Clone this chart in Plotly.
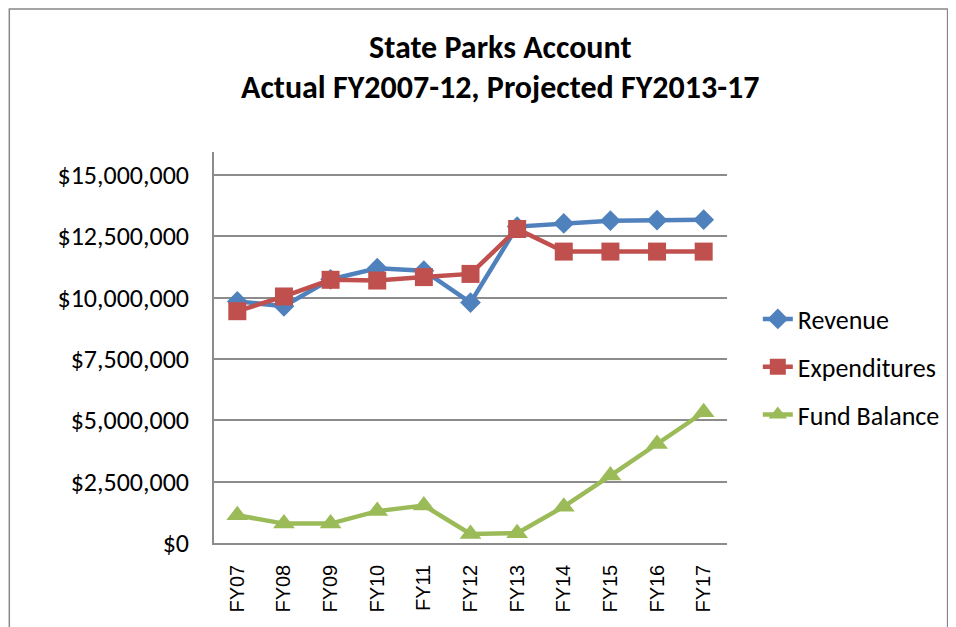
import plotly.graph_objects as go

years = ["FY07", "FY08", "FY09", "FY10", "FY11", "FY12", "FY13", "FY14", "FY15", "FY16", "FY17"]
revenue = [9850000, 9650000, 10750000, 11200000, 11100000, 9800000, 12900000, 13030000, 13140000, 13160000, 13180000]
expenditures = [9450000, 10050000, 10730000, 10700000, 10840000, 10970000, 12800000, 11880000, 11880000, 11880000, 11880000]
fund_balance = [1130000, 790000, 790000, 1300000, 1530000, 370000, 400000, 1480000, 2750000, 4040000, 5330000]

CAL = "Calibri, Carlito, Lato, sans-serif"
GRID = "#8c8c8c"

series = [
    ("Revenue", revenue, "#4f81bd", "diamond", 16),
    ("Expenditures", expenditures, "#c0504d", "square", 18),
    ("Fund Balance", fund_balance, "#9bbb59", "triangle-up", 19),
]

fig = go.Figure()
for name, vals, color, symbol, size in series:
    fig.add_trace(go.Scatter(
        x=years, y=vals, name=name, legendgroup=name,
        mode="lines+markers",
        line=dict(color=color, width=4.5),
        marker=dict(symbol=symbol, size=size, color=color, line=dict(width=0)),
    ))

# two-line title, drawn as annotations so the line spacing matches
fig.add_annotation(text="<b>State Parks Account</b>", xref="paper", yref="paper",
                   x=0.558, y=1.2685, xanchor="center", yanchor="middle", showarrow=False,
                   font=dict(family=CAL, size=32, color="black"))
fig.add_annotation(text="<b>Actual FY2007-12, Projected FY2013-17</b>", xref="paper", yref="paper",
                   x=0.558, y=1.166, xanchor="center", yanchor="middle", showarrow=False,
                   font=dict(family=CAL, size=32, color="black"))

# chart frame along the page edge
fig.add_shape(type="rect", xref="paper", yref="paper",
              x0=-0.399, x1=1.430, y0=-0.40, y1=1.366,
              line=dict(color="#888888", width=1.5), layer="below")

# page body has an 8px margin, so the figure is sized to fill the rest
fig.update_layout(
    width=948, height=619,
    margin=dict(l=206, r=228, t=144, b=84),
    plot_bgcolor="white", paper_bgcolor="white",
    showlegend=True,
    legend=dict(x=1.058, xanchor="left", y=0.45, yanchor="middle",
                font=dict(family=CAL, size=26, color="black"),
                tracegroupgap=11, traceorder="grouped"),
    xaxis=dict(range=[-0.5, 10.5], showgrid=False, showline=True, linecolor=GRID, linewidth=1.5,
               tickangle=-90, ticks="", ticklabelstandoff=12,
               tickfont=dict(family="Liberation Sans, Arial, sans-serif", size=20, color="black")),
    yaxis=dict(range=[0, 15.94e6], dtick=2.5e6, tick0=0, tickprefix="$", tickformat=",d",
               showgrid=True, gridcolor=GRID, gridwidth=1.5, zeroline=False,
               showline=True, linecolor=GRID, linewidth=1.5, ticks="", ticklabelstandoff=18,
               tickfont=dict(family=CAL, size=26, color="black")),
)

fig.write_html("out.html")
